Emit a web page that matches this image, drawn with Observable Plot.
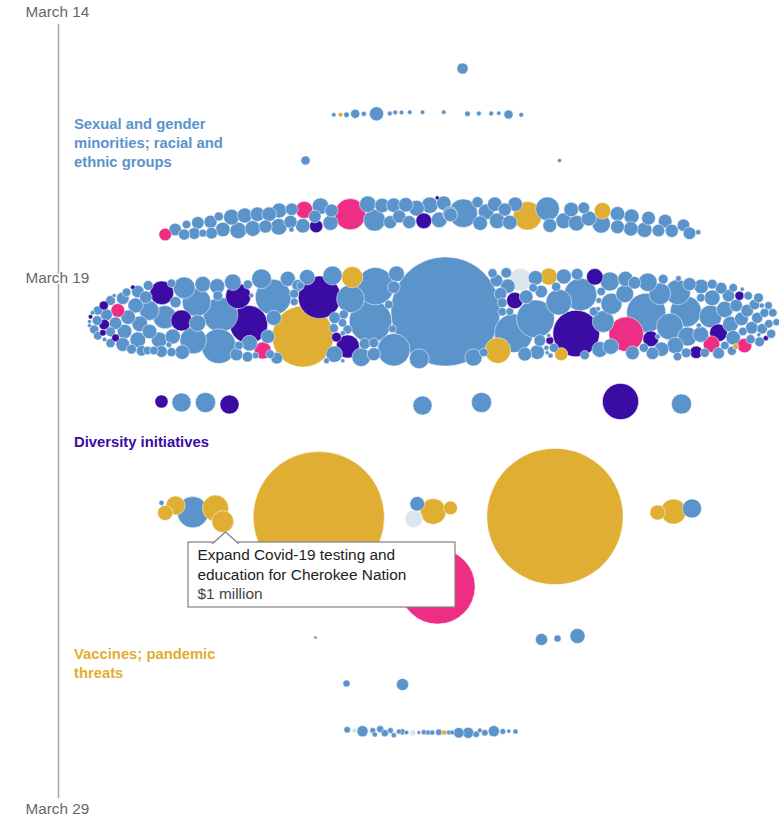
<!DOCTYPE html>
<html><head><meta charset="utf-8">
<style>html,body{margin:0;padding:0;background:#fff}svg{display:block}</style>
<script src="https://cdn.jsdelivr.net/npm/d3@7"></script>
<script src="https://cdn.jsdelivr.net/npm/@observablehq/plot@0.6"></script>
</head><body><div id="chart"></div>
<script>
// Each grant: [swarm position, timeline position, bubble size]
const blueGrants = [
[462,68,5],[333.3,114.3,1.7],[346,114.3,2.2],[354.7,113.3,4],[363.3,113.3,2],[376,113.3,6.5],[389.3,113,1.8],[394.7,112,1.8],[401,112,1.7],[409.3,111.7,1.7],[422,111.7,1.7],[443.3,111.7,1.7],[467,113.3,2.2],[478.3,113,1.8],[490.7,113,1.8],[498.3,112.7,1.6],[508,114,4],[520.7,114.3,1.8],[305,160,4],[559,160,1.5],
[174.7,229,5.7],[183.7,234,5],[186,224,3.7],[193.7,233,5.3],[197.3,222.3,5.7],[202.3,232.7,3.3],[211,232.7,5.3],[210,221.3,6],[218.3,216,4],[222.3,229,6.7],[231,216.7,7.3],[237.7,230,7.7],[244.3,215,7],[252.3,228,7.3],[257,213.7,6.7],[265,226,6],[268.7,213.7,6.7],[278.3,226.3,7.7],[278.7,210,7],[291.3,208.7,5.7],[290,221.3,6],[291,229,2],[302.3,225.3,6.7],[320,205.7,7.7],[314.3,216,5.7],[331,210,6],[330,222.3,7],[367.3,203.7,7.7],[374,219.7,10.3],[381.7,205,6.7],[389.7,221.7,6],[393.3,204.7,6.7],[398.7,216,6],[405.3,204.3,6.7],[408.7,221.7,6],[416,207.7,7.3],[429.3,204.7,7.7],[438.7,219.3,7.3],[443.3,202.7,6.7],[449.3,213.3,6.7],[462.7,212.7,13.7],[450,214.3,6.3],[477,201.7,5],[485.7,211.3,7.3],[479.7,222.7,6.7],[494.3,203.7,6.7],[496.7,220.3,7.3],[504.3,209,6],[509.3,222,6.7],[514.7,203.7,6.7],[547,208.3,11.3],[549.3,225,6.3],[563.3,220.3,7.3],[570.7,209,6.7],[576,222.7,7.3],[583.3,207.3,5.3],[588.3,218,7],[600.7,223.3,8.7],[617,213.3,6.7],[617,226.3,6.3],[631,216,7],[630.3,228.3,6.7],[644,229.3,7],[648,217.7,6.3],[658,230,5.7],[664.7,220.7,6.3],[671.3,230.3,6],[683,224.7,5.7],[689,232.7,5.7],[697.7,231.7,2],
[89,321,1.5],[89,325,1.5],[92,312.3,1.7],[97.3,310,4],[96.7,320,4.3],[93.7,329,4],[106,314.3,5.3],[110,300,4.3],[97.3,335.3,3.7],[104,339,1.7],[110,331.3,4.3],[115,322.7,5.7],[122.3,297.7,5.7],[113.7,295,1.5],[110,342.7,4],[122.3,344,6.3],[124,331,6.7],[127.7,316.7,6.7],[126,291.7,3.7],[135,305,7],[137.3,291,5.7],[145.3,296.7,5.7],[147.7,285,4.3],[139.3,323.3,7.3],[137.3,339.3,7.3],[148.7,310,9.3],[149,331,6.7],[131,348.7,4.3],[141,350.3,4.7],[147,350,3.7],[153.3,350,3.7],[161,351,5.3],[158.7,339.3,7.3],[164.3,316.7,11],[171,282.7,3.7],[183.7,287.3,10.3],[175,301.7,5],[196,301.7,13.7],[197,322.7,7.7],[172.3,336,7],[168.3,344.3,2.3],[171,351.7,4],[181.7,351.7,6.7],[192.7,340,12.7],[202.3,283.7,7.3],[216.7,285.7,7],[217.3,295.3,4.3],[232.3,281.7,7.7],[247.3,284,4],[251,295,1.7],[220,314.3,16.7],[218.3,345.7,16.7],[236,354,5.7],[238.3,345,3.7],[249,342.7,7.3],[247,356.3,4.7],[255,355,2.7],[267.3,336,6.3],[269.7,353.7,3.7],[276.3,357.7,5.3],[273.3,317.3,7],[272.7,296.7,17.3],[261,278.3,9.3],[287.3,278.3,7],[297.3,285,5.3],[293.7,293.3,4],[293.7,301.3,3.3],[306.7,276.7,7.2],
[300,285,3.3],[332,275,9],[350,298.3,13.3],[375,285.7,18],[396,273.3,7.3],[393.3,286.7,5.7],[388.3,304,3.7],[370,320.7,20.7],[334.3,317.3,5.3],[343.3,314,4],[342,322.3,3.7],[333.3,327.7,4],[347,329,4],[342.3,332.7,2],[333.7,353.7,7.7],[326,360.3,2.3],[342.3,360.3,1.5],[360.7,356.7,8.7],[364.3,343.3,5],[373.3,342.3,4.3],[373.3,353.7,6],[393.3,349.3,15.7],[392,328.3,3.3],[418.7,358.3,9.3],[445,311,54],[473,357,8],[483.3,352,3.7],[513.3,332.7,18.7],[524.3,353.7,6.3],[492,272.7,4],[496,280,5.7],[505.7,272.3,4.7],[507.3,285.7,6.7],[500,293.3,5.7],[501.7,302.3,4.3],[501.7,311.3,3.7],[509.3,311,3.3],[525.7,296.3,6.3],
[535,277.3,6.7],[563.3,276,7],[576.7,273.7,5.3],[609.3,281,9],[625,278.3,7],[634,282.3,5.7],[647.3,281.7,8.7],[662.7,278.7,4.3],[678,278,2.3],[689,283.7,6],[700.7,286,6.7],[711.7,283.7,4.3],[720.7,287.7,5.3],[732.7,287.3,3.7],[741.7,288.7,1.5],[747.7,295.3,3.7],[758,297.3,4.3],[728,295,5.7],[711.7,297.3,7.3],[700.3,297.3,3.7],[754,304,4.7],[761.3,305,2],[768,305,3.3],[735.7,305,5.7],[724.3,309,7.7],[746.7,310,5.7],[764,312.3,4],[772.3,312.3,3.7],[756.7,317.3,5],[741,318.3,6.3],[710,316,10.7],[768.3,323.3,3.7],[776,321.7,3],[751.3,327.3,5.7],[761.7,328.3,4.7],[770.7,333.3,4],[742.3,331,3.7],[730,323.7,7.3],[732.7,337.3,6.7],[700.3,334,7.3],[687,336,9],[685.3,311,15],[659.3,293.3,10.3],[677.3,291.7,12],[645.7,312.3,19],[624.3,293.3,8.3],[611,303.3,10],[600.7,291,3.7],[598.3,300,2.3],[593.3,311,4],[597.7,308.3,1.7],[580,294,15.7],[558.3,301.7,12.3],[540.7,291,5.7],[532.7,287.3,3.7],[555.7,286.3,4],[535,318.3,18.3],[602.7,321,10.3],[669.3,326,12.7],[657.3,336,2],[539.3,340,5.3],[548.3,335,1.5],[536.7,351.7,6.7],[546,347.3,2],[553.3,347.3,4],[546.7,352.3,1.5],[550,355,2],[584.3,354.7,4],[599.3,349,7.3],[610.3,346,7.3],[632,352.3,6.3],[643.3,347.3,4],[652,352.7,5.7],[661,348.7,6.7],[674.7,345,7.7],[677,356,3.7],[685.7,352.3,4.3],[704.3,352.3,4],[718,352.7,5.3],[724.3,345,3.7],[731.3,350.3,4],[750,338.7,4],[759,341.3,4.3],[758.3,334.3,1.5],[698.3,325,2],
[181,402,9],[205,402,9.5],[422,405,9],[481,402,9.5],[681,403.5,9.5],
[161,502.3,2],[192.3,511.7,15],[416.7,503.3,6.7],[691.5,508,9],[315,637,1],[541,639,5.5],[557,638,3],[577,635.5,7],[346,683,3],[402,684,5.5],
[346.7,729.3,2.7],[362,730.7,5],[372.3,730,2.3],[374.3,734,2],[379.7,728.7,3],[384.3,732.7,3],[390,730,2.3],[393.3,734.7,2],[398.3,731,2],[401.7,731.3,2.5],[406,732,1.7],[418.3,732,1.3],[423.3,731.7,2],[427.7,732,2],[431.7,732,2],[438.3,731.7,2.7],[448.3,732,1.8],[451.7,732,1.8],[458.3,732.3,4.7],[467.7,732.3,5],[475.7,733.7,2.7],[479.3,730,1.8],[484.3,732.3,2.7],[493.3,730.7,5],[502.3,731,2.3],[508.3,730.7,1.5],[515,731,2]
];
const purpleGrants = [
[315.7,225.7,6],[423.3,220.3,7.3],[436.7,197.3,1.5],
[90,316.3,1.7],[103.3,305,4],[103.7,324,4.7],[102.3,332.3,2.7],[115,337.3,3.3],[132.3,286.7,1.7],[161.3,292.3,11.3],[181,320,10],[237.7,295.7,12],[248.3,324,18.3],
[319,296.7,20.7],[336,336.7,4.3],[347.3,346,11],[514.3,300,7.7],
[594.3,276.3,7.7],[739,295.3,4],[718,332.3,8.3],[575.7,333,22.7],[650.3,338.3,7.3],[549.3,340,3.3],[695.7,351.7,5.7],[765.3,337.7,2],
[161,401,6],[229,404,9],[620,401,17.5]
];
const pinkGrants = [
[164.7,234,5.7],[303.7,209.3,8],[349.7,213.7,15],[117.3,310,6.3],[262.3,350,8],[625.7,333.7,16.7],[711,343.7,7.7],[744,345,6.7],[437,586,37]
];
const goldGrants = [
[340,114.3,1.7],[527,215.3,13.7],[602,210.3,7.7],[302.3,336,30],[351.7,276.7,10],[497.3,350,12.3],[548.3,276,8],[560.7,353.7,6],[735.3,346,2.3],
[175,505,9],[164.7,512.3,7],[215,507.7,12.5],[222.3,521,10.3],[318.3,516.7,65],[432.7,511,12.3],[450,507.3,6.3],[554.5,516,67.5],[657,512,7],[673,511,12],[443.7,732,2]
];
const paleGrants = [[520,279.3,10.7],[413.3,518.3,8.3],[354,730,2],[412.3,732.3,2.5]];

const dateLabels = ["March 14","March 19","March 29"];
const dateSpots = [12,278,809];
const topicLines = ["Sexual and gender","minorities; racial and","ethnic groups","Diversity initiatives","Vaccines; pandemic","threats"];
const topicSpots = [124,143,162,442,654,673];
const topicKinds = ["blue","blue","blue","purple","gold","gold"];
const noteLines = ["Expand Covid-19 testing and","education for Cherokee Nation","$1 million"];
const noteSpots = [555,574.5,594];

const palette = {blue:"#5b93cb",purple:"#3a0ca3",pink:"#ee2e85",gold:"#dfae32",pale:"#dbe5ec"};
const grants = [
  ...blueGrants.map(d=>({x:d[0],y:d[1],r:d[2],kind:"blue"})),
  ...purpleGrants.map(d=>({x:d[0],y:d[1],r:d[2],kind:"purple"})),
  ...pinkGrants.map(d=>({x:d[0],y:d[1],r:d[2],kind:"pink"})),
  ...goldGrants.map(d=>({x:d[0],y:d[1],r:d[2],kind:"gold"})),
  ...paleGrants.map(d=>({x:d[0],y:d[1],r:d[2],kind:"pale"}))
];
const font = "'Liberation Sans', Arial, sans-serif";
const kinds = Object.keys(palette);
const chart = Plot.plot({
  width:779, height:819, margin:0, style:{background:"#fff",overflow:"hidden"},
  x:{domain:[0,779],range:[0,779],axis:null},
  y:{domain:[0,819],range:[0,819],axis:null},
  r:{type:"linear",domain:[0,70],range:[0.6,70.6]},
  color:{domain:kinds,range:kinds.map(k=>palette[k])},
  marks:[
    Plot.ruleX([58],{y1:24,y2:798,stroke:"#a0a0a0",strokeWidth:1.4}),
    Plot.dot(grants,{x:"x",y:"y",r:"r",fill:"kind",stroke:"#fff",strokeOpacity:0.5,strokeWidth:1}),
    Plot.text(dateLabels,{x:25,y:(d,i)=>dateSpots[i],text:d=>d,textAnchor:"start",fontFamily:font,fontSize:15.3,fill:"#666",stroke:"#fff",strokeWidth:3,paintOrder:"stroke"}),
    Plot.text(topicLines,{x:73.5,y:(d,i)=>topicSpots[i],text:d=>d,textAnchor:"start",fontFamily:font,fontSize:14.8,fontWeight:700,fill:(d,i)=>palette[topicKinds[i]]}),
    Plot.rect([0],{x1:188,x2:455,y1:542,y2:607,fill:"#fff",stroke:"#808080",strokeWidth:1.2}),
    Plot.line([[212,543],[225,531.5],[238,543]],{x:d=>d[0],y:d=>d[1],fill:"#fff",stroke:"#808080",strokeWidth:1.2}),
    Plot.text(noteLines,{x:197,y:(d,i)=>noteSpots[i],text:d=>d,textAnchor:"start",fontFamily:font,fontSize:15.4,fill:(d,i)=>i==2?"#444":"#222",fontWeight:400})
  ]
});
document.getElementById("chart").append(chart);
</script></body></html>
